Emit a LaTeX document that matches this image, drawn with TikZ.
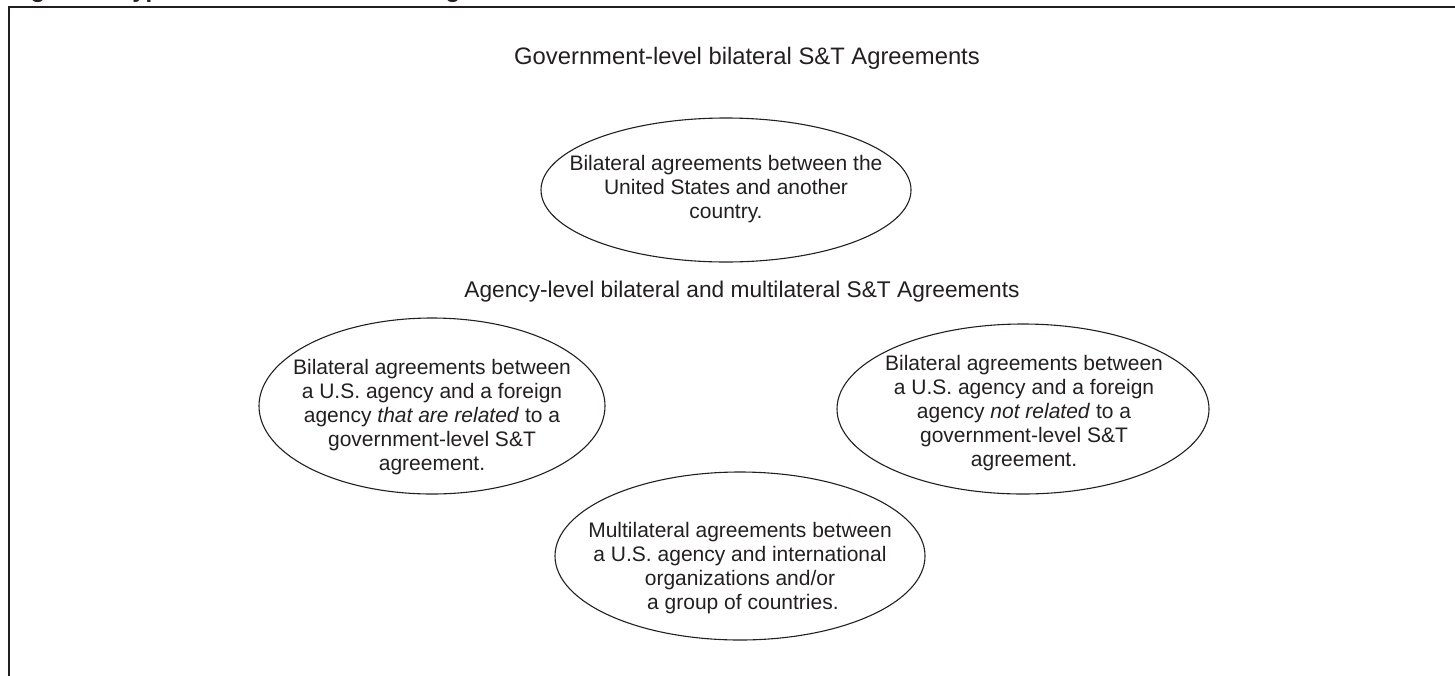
\documentclass[tikz,border=0pt]{standalone}
\usepackage{fontspec}
\setmainfont{Liberation Sans}
\usetikzlibrary{shapes.geometric}
\definecolor{ink}{HTML}{231F20}
\tikzset{
  oval/.style={draw=ink, line width=1.1pt, ellipse, inner sep=0pt},
  body/.style={text=ink, align=center, font=\fontsize{21}{24.2}\selectfont},
  head/.style={text=ink},
}
\begin{document}
\begin{tikzpicture}[x=1pt,y=-1pt]
\useasboundingbox (0,0) rectangle (1455,675);
\clip (0,0) rectangle (1455,675);
% cut-off title
\node[anchor=base west, inner sep=0pt, text=ink, font=\fontsize{24}{28}\bfseries\selectfont] (title) at (9,-3) {Figure 1: Types of International S\&T Agreements};
% frame
\draw[ink, line width=1.6pt] (9,680) -- (9,7) -- (1460,7);
% headings
\node[head, font=\fontsize{23.8}{28}\selectfont] (h1) at (747,58) {Government-level bilateral S\&T Agreements};
\node[head, font=\fontsize{22.7}{27}\selectfont] (h2) at (742,292) {Agency-level bilateral and multilateral S\&T Agreements};
% ellipses
\draw[oval] (726,190) ellipse [x radius=185, y radius=72];
\node[body] (e1) at (726,189) {Bilateral agreements between the\\United States and another\\country.};
\draw[oval] (432,406) ellipse [x radius=173, y radius=88];
\node[body] (e2) at (432,417) {Bilateral agreements between\\a U.S. agency and a foreign\\agency \textit{that are related} to a\\government-level S\&T\\agreement.};
\draw[oval] (1023,409) ellipse [x radius=186, y radius=85];
\node[body] (e3) at (1024,413) {Bilateral agreements between\\a U.S. agency and a foreign\\agency \textit{not related} to a\\government-level S\&T\\agreement.};
\draw[oval] (740,556) ellipse [x radius=185, y radius=84];
\node[body] (e4) at (740,568) {Multilateral agreements between\\a U.S. agency and international\\organizations and/or\\\ a group of countries.};
\end{tikzpicture}
\end{document}
